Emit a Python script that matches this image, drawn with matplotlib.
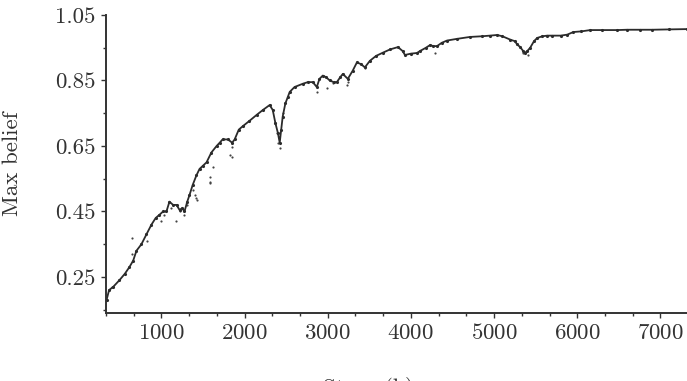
import numpy as np
import matplotlib
matplotlib.use('Agg')
import matplotlib.pyplot as plt
from matplotlib.ticker import FixedLocator, MultipleLocator

plt.rcParams['font.family'] = ['cmr10', 'DejaVu Serif']
plt.rcParams['axes.formatter.use_mathtext'] = True

# main trace of max belief vs steps
steps = [340, 370, 420, 494, 560, 614, 660, 699, 759, 819, 880, 930, 976, 1020, 1060,
         1096, 1140, 1181, 1217, 1250, 1277, 1310, 1337, 1374, 1420, 1458, 1500, 1542,
         1600, 1663, 1700, 1735, 1800, 1850, 1880, 1930, 1976, 2050, 2145, 2220, 2301,
         2338, 2370, 2400, 2422, 2440, 2458, 2490, 2520, 2542, 2600, 2699, 2760, 2820,
         2868, 2900, 2940, 2980, 3024, 3070, 3109, 3150, 3181, 3241, 3300, 3350, 3400,
         3446, 3506, 3580, 3663, 3750, 3844, 3900, 3928, 4000, 4073, 4109, 4180, 4229,
         4270, 4314, 4370, 4434, 4550, 4711, 4850, 4950, 5037, 5100, 5193, 5250, 5278,
         5314, 5350, 5374, 5400, 5434, 5480, 5519, 5580, 5639, 5700, 5800, 5880, 5953,
         6050, 6157, 6300, 6483, 6600, 6760, 6900, 7100, 7326]
belief = [0.18, 0.21, 0.22, 0.24, 0.26, 0.28, 0.30, 0.33, 0.35, 0.38, 0.41, 0.43, 0.44,
          0.45, 0.45, 0.48, 0.47, 0.47, 0.455, 0.46, 0.45, 0.48, 0.50, 0.53, 0.56, 0.58,
          0.59, 0.60, 0.63, 0.65, 0.66, 0.67, 0.67, 0.66, 0.67, 0.70, 0.71, 0.725, 0.745,
          0.76, 0.775, 0.76, 0.72, 0.69, 0.66, 0.70, 0.74, 0.78, 0.80, 0.815, 0.83, 0.84,
          0.845, 0.845, 0.83, 0.855, 0.865, 0.86, 0.85, 0.845, 0.845, 0.86, 0.87, 0.855,
          0.88, 0.905, 0.90, 0.89, 0.91, 0.925, 0.935, 0.945, 0.952, 0.94, 0.928, 0.932,
          0.934, 0.94, 0.95, 0.958, 0.955, 0.955, 0.965, 0.972, 0.977, 0.983, 0.985,
          0.987, 0.989, 0.985, 0.975, 0.97, 0.96, 0.952, 0.94, 0.935, 0.94, 0.95, 0.97,
          0.98, 0.985, 0.987, 0.987, 0.987, 0.99, 0.998, 1.0, 1.004, 1.004, 1.004, 1.005,
          1.005, 1.005, 1.006, 1.007]

# scattered points off the main trace
out_steps = [410, 640, 650, 830, 1000, 1036, 1120, 1180, 1217, 1277, 1313, 1374, 1398,
             1420, 1422, 1578, 1578, 1578, 1614, 1819, 1843, 1843, 2362, 2386, 2398, 2422,
             2458, 2868, 2988, 3060, 3229, 3241, 3446, 4290, 5350, 5410]
out_belief = [0.22, 0.37, 0.32, 0.36, 0.42, 0.44, 0.46, 0.42, 0.45, 0.44, 0.47, 0.515,
              0.50, 0.49, 0.485, 0.54, 0.555, 0.537, 0.586, 0.622, 0.647, 0.616, 0.72,
              0.69, 0.66, 0.645, 0.75, 0.815, 0.827, 0.842, 0.836, 0.845, 0.888, 0.934,
              0.934, 0.928]

x_ticks = [1000, 2000, 3000, 4000, 5000, 6000, 7000]
y_ticks = [0.25, 0.45, 0.65, 0.85, 1.05]

fig = plt.figure(figsize=(6.87, 3.81), dpi=100)
ax = fig.add_axes([106 / 687, 1 - 313 / 381, 581 / 687, 298 / 381])

ax.plot(steps, belief, color='#2b2b2b', lw=1.3, marker='.', ms=2.5,
        solid_capstyle='round')
ax.scatter(out_steps, out_belief, s=2.5, color='#444444', linewidths=0)

ax.set_xlim(333, 7320)
ax.set_ylim(0.14, 1.05)
ax.xaxis.set_major_locator(FixedLocator(x_ticks))
ax.xaxis.set_minor_locator(MultipleLocator(1000 / 3))
ax.yaxis.set_major_locator(FixedLocator(y_ticks))
ax.yaxis.set_minor_locator(FixedLocator([t - 0.1 for t in y_ticks]))
ax.set_yticklabels(['%.2f' % t for t in y_ticks])

for side in ['top', 'right']:
    ax.spines[side].set_visible(False)
for side in ['left', 'bottom']:
    ax.spines[side].set_color('#333333')
    ax.spines[side].set_linewidth(1.4)

ax.tick_params(which='both', direction='out', color='#333333', labelcolor='#333333',
               labelsize=16.5)
ax.tick_params(which='major', length=3.5, width=1.0, pad=4)
ax.tick_params(which='minor', length=2.5, width=1.0)

ax.set_ylabel('Max belief', fontsize=16.5, color='#333333')
ax.yaxis.set_label_coords(-0.145, 0.5)
ax.set_xlabel('Steps (k)', fontsize=16.5, color='#333333')
ax.xaxis.set_label_coords(0.451, -0.215)

fig.savefig('out.png', dpi=100)
